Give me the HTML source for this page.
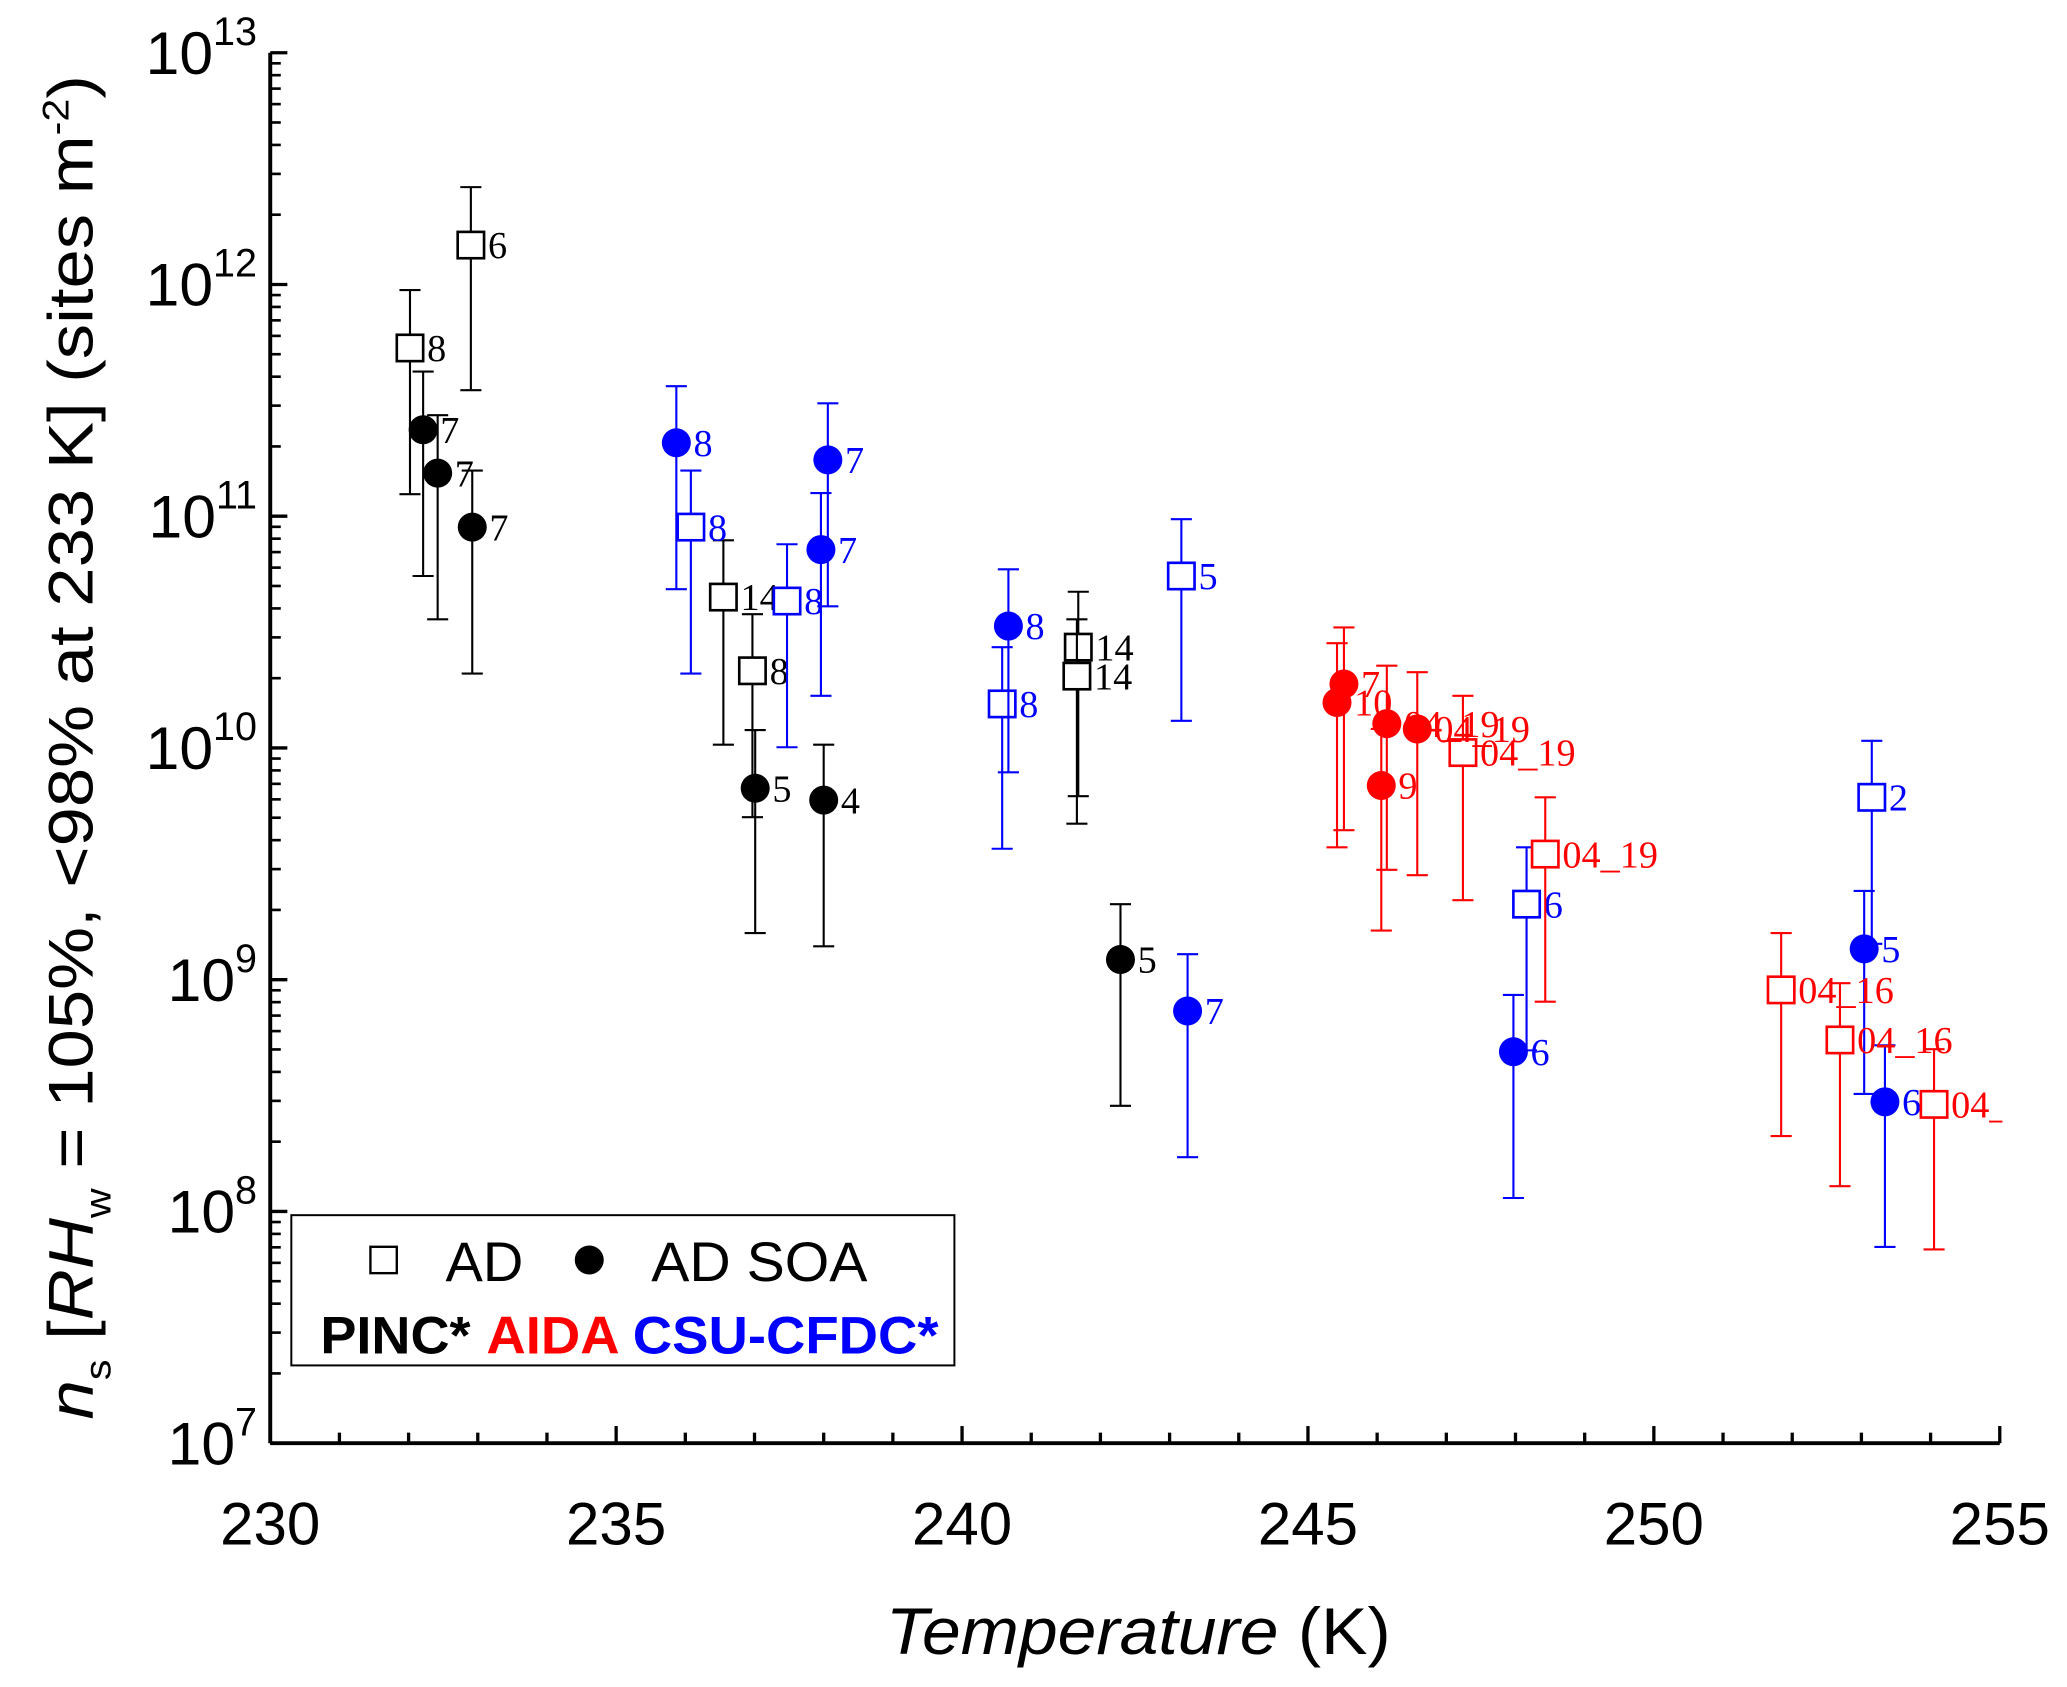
<!DOCTYPE html>
<html><head><meta charset="utf-8"><style>html,body{margin:0;padding:0;background:#fff}svg{display:block}</style></head>
<body>
<svg id="chart" xmlns="http://www.w3.org/2000/svg" width="2067" height="1687" viewBox="0 0 1568 1280" preserveAspectRatio="none" font-family="Liberation Sans, Arial, sans-serif">
<defs><clipPath id="pc"><rect x="0" y="0" width="1519" height="1280"/></clipPath></defs>
<rect width="1568" height="1280" fill="#fff"/>
<g id="axes"></g>
<g id="marks" clip-path="url(#pc)"></g>
<text x="672" y="1255" font-size="50" textLength="383" lengthAdjust="spacingAndGlyphs"><tspan font-style="italic">Temperature</tspan> (K)</text>
<text transform="translate(70,1077) rotate(-90)" font-size="48" textLength="1020" lengthAdjust="spacingAndGlyphs"><tspan font-style="italic">n</tspan><tspan font-size="28" dy="14">s</tspan><tspan dy="-14"> [</tspan><tspan font-style="italic">RH</tspan><tspan font-size="28" dy="14">w</tspan><tspan dy="-14"> = 105%, &lt;98% at 233 K] (sites m</tspan><tspan font-size="28" dy="-18">-2</tspan><tspan dy="18">)</tspan></text>
<g>
<rect x="221" y="922" width="503" height="114" fill="#fff" stroke="#000" stroke-width="1.5"/>
<rect x="281" y="946" width="20" height="20" fill="#fff" stroke="#000" stroke-width="1.8"/>
<text x="338" y="972" font-size="42" textLength="59" lengthAdjust="spacingAndGlyphs">AD</text>
<circle cx="447" cy="956" r="11" fill="#000"/>
<text x="494" y="972" font-size="42" textLength="164" lengthAdjust="spacingAndGlyphs">AD SOA</text>
<text x="243" y="1027" font-size="40" font-weight="bold" fill="#000" textLength="114" lengthAdjust="spacingAndGlyphs">PINC*</text>
<text x="369" y="1027" font-size="40" font-weight="bold" fill="#ff0000" textLength="101" lengthAdjust="spacingAndGlyphs">AIDA</text>
<text x="480" y="1027" font-size="40" font-weight="bold" fill="#0000ff" textLength="232" lengthAdjust="spacingAndGlyphs">CSU-CFDC*</text>
</g>
</svg>
<script>
// data: temperature (K), log10(ns), log10 error top, log10 error bottom, labels
const pincAdT=[232.02,232.9,236.55,236.97,241.68,241.66];
const pincAdV=[11.726,12.17,10.651,10.333,10.435,10.31];
const pincAdHi=[11.976,12.42,10.896,10.577,10.674,10.555];
const pincAdLo=[11.095,11.544,10.014,9.701,9.792,9.673];
const pincAdL=["8","6","14","8","14","14"];
const pincSoaT=[232.21,232.42,232.92,237.01,238.0,242.29];
const pincSoaV=[11.373,11.186,10.953,9.826,9.775,9.087];
const pincSoaHi=[11.624,11.436,11.197,10.077,10.014,9.326];
const pincSoaLo=[10.742,10.555,10.321,9.201,9.144,8.456];
const pincSoaL=["7","7","7","5","4","5"];
const csuAdT=[236.08,237.47,240.58,243.17,248.16,253.15];
const csuAdV=[10.953,10.634,10.19,10.742,9.326,9.787];
const csuAdHi=[11.197,10.879,10.435,10.987,9.571,10.031];
const csuAdLo=[10.321,10.003,9.565,10.117,8.695,9.155];
const csuAdL=["8","8","8","5","6","2"];
const csuSoaT=[235.87,238.06,237.96,240.67,243.26,247.97,253.04,253.34];
const csuSoaV=[11.317,11.243,10.856,10.526,8.865,8.689,9.133,8.473];
const csuSoaHi=[11.561,11.487,11.1,10.771,9.11,8.934,9.383,8.717];
const csuSoaLo=[10.685,10.611,10.225,9.895,8.234,8.058,8.507,7.847];
const csuSoaL=["8","7","7","8","7","6","5","6"];
const aidaAdT=[247.24,248.43,251.84,252.69,254.05];
const aidaAdV=[9.98,9.542,8.956,8.74,8.462];
const aidaAdHi=[10.225,9.787,9.201,8.985,8.7];
const aidaAdLo=[9.343,8.905,8.325,8.109,7.836];
const aidaAdL=["04_19","04_19","04_16","04_16","04_16"];
const aidaSoaT=[245.42,245.52,246.14,246.58,246.06];
const aidaSoaV=[10.196,10.276,10.105,10.082,9.838];
const aidaSoaHi=[10.452,10.52,10.355,10.327,10.082];
const aidaSoaLo=[9.571,9.645,9.474,9.451,9.212];
const aidaSoaL=["10","7","04_19","04_19","9"];
const xTicks=[230,235,240,245,250,255];
const yTicks=[7,8,9,10,11,12,13];

const NS="http://www.w3.org/2000/svg";
const X0=205,X1=1517,Y0=1095,Y1=40;
function xs(t){return X0+(t-230)/25*(X1-X0);}
function ys(l){return Y0-(l-7)/6*(Y0-Y1);}
function mk(tag,at,parent){const e=document.createElementNS(NS,tag);for(const k in at)e.setAttribute(k,at[k]);parent.appendChild(e);return e;}
const ax=document.getElementById('axes');
let l=mk('line',{x1:X0,y1:Y0,x2:X1,y2:Y0,stroke:'#000','stroke-width':3},ax);


l=mk('line',{x1:X0,y1:Y0,x2:X0,y2:Y1,stroke:'#000','stroke-width':3},ax);


for(let t=230;t<=255;t++){const major=(t%5===0);mk('line',{x1:xs(t),y1:Y0,x2:xs(t),y2:Y0-(major?13:8),stroke:'#000','stroke-width':2.5},ax);}
xTicks.forEach(t=>{const tx=mk('text',{x:xs(t)-38,y:Y0+77,'font-size':46,textLength:76,lengthAdjust:'spacingAndGlyphs'},ax);tx.textContent=t;

});
yTicks.forEach(p=>{mk('line',{x1:X0,y1:ys(p),x2:X0+13,y2:ys(p),stroke:'#000','stroke-width':2.5},ax);
if(p<13)for(let m=2;m<=9;m++){const yy=ys(p+Math.log10(m));mk('line',{x1:X0,y1:yy,x2:X0+8,y2:yy,stroke:'#000','stroke-width':2},ax);}
const tx=mk('text',{x:X0-10,y:ys(p)+16,'font-size':46,'text-anchor':'end'},ax);


tx.appendChild(document.createTextNode('10'));const s=mk('tspan',{dy:-22,'font-size':30},tx);s.textContent=p;});
const mg=document.getElementById('marks');
function series(T,V,H,Lo,L,color,shape,name){
 const g=mk('g',{},mg);
 
 
 T.forEach((t,i)=>{const x=xs(t),y=ys(V[i]),yh=ys(H[i]),yl=ys(Lo[i]);
  mk('line',{x1:x,y1:yh,x2:x,y2:yl,stroke:color,'stroke-width':1.6},g);
  mk('line',{x1:x-8,y1:yh,x2:x+8,y2:yh,stroke:color,'stroke-width':1.6},g);
  mk('line',{x1:x-8,y1:yl,x2:x+8,y2:yl,stroke:color,'stroke-width':1.6},g);
  let m;
  if(shape==='sq')m=mk('rect',{x:x-10,y:y-10,width:20,height:20,fill:'#fff',stroke:color,'stroke-width':2},g);
  else m=mk('circle',{cx:x,cy:y,r:11,fill:color},g);
  
  
  const tx=mk('text',{x:x+13,y:y+10,'font-size':29,'font-family':'Liberation Serif, serif',fill:color},g);tx.textContent=L[i];
 });
}
series(pincAdT,pincAdV,pincAdHi,pincAdLo,pincAdL,'#000','sq','pinc-ad');
series(pincSoaT,pincSoaV,pincSoaHi,pincSoaLo,pincSoaL,'#000','ci','pinc-ad-soa');
series(csuAdT,csuAdV,csuAdHi,csuAdLo,csuAdL,'#0000ff','sq','csu-ad');
series(csuSoaT,csuSoaV,csuSoaHi,csuSoaLo,csuSoaL,'#0000ff','ci','csu-ad-soa');
series(aidaAdT,aidaAdV,aidaAdHi,aidaAdLo,aidaAdL,'#ff0000','sq','aida-ad');
series(aidaSoaT,aidaSoaV,aidaSoaHi,aidaSoaLo,aidaSoaL,'#ff0000','ci','aida-ad-soa');
</script>
</body></html>
